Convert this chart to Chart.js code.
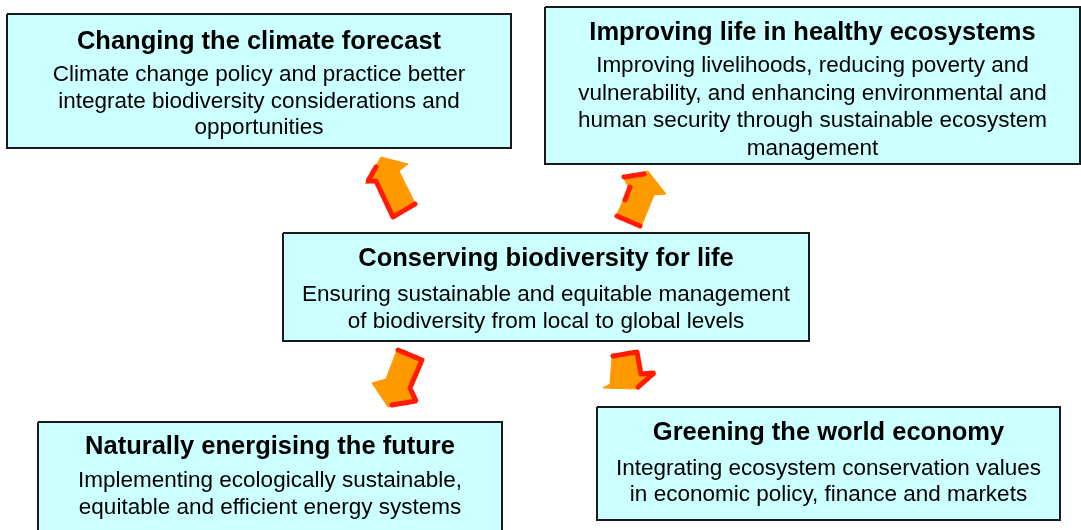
<!DOCTYPE html>
<html>
<head>
<meta charset="utf-8">
<script src="https://cdn.jsdelivr.net/npm/chart.js@4/dist/chart.umd.min.js"></script>
<style>
  html, body { margin: 0; padding: 0; background: #ffffff; }
  #wrap { width: 1081px; height: 530px; position: relative; }
</style>
</head>
<body>
<div id="wrap"><canvas id="c" width="1081" height="530"></canvas></div>
<script>
// ---- data ----
const boxTitles = [
  "Changing the climate forecast",
  "Improving life in healthy ecosystems",
  "Conserving biodiversity for life",
  "Naturally energising the future",
  "Greening the world economy"
];
const boxLines = [
  ["Climate change policy and practice better", "integrate biodiversity considerations and", "opportunities"],
  ["Improving livelihoods, reducing poverty and", "vulnerability, and enhancing environmental and", "human security through sustainable ecosystem", "management"],
  ["Ensuring sustainable and equitable management", "of biodiversity from local to global levels"],
  ["Implementing ecologically sustainable,", "equitable and efficient energy systems"],
  ["Integrating ecosystem conservation values", "in economic policy, finance and markets"]
];
// box extents in diagram units
const boxLeft   = [7, 545, 283, 38, 597];
const boxRight  = [511, 1080, 809, 502, 1060];
const boxTop    = [14, 7, 233, 422, 407];
const boxBottom = [148, 164, 341, 545, 520];

// arrow outlines (diagram units)
const arrowShapes = [
  [[393,218],[416,205],[399,171],[408,164],[381,157],[365,184],[375,181],[393,218]],
  [[616,216],[641,227],[654,195],[666,194],[648,171],[623,177],[629,188],[616,216]],
  [[397,350],[423,360],[411,388],[417,402],[388,407],[372,383],[386,379],[397,350]],
  [[612,357],[638,352],[642,374],[655,373],[637,389],[603,388],[610,384],[612,357]]
];
// rough red edges of arrows
const arrowEdges = [
  [[376,167],[368,181],[376,181],[393,217],[415,204]],
  [[624,177],[644,174]],
  [[630,187],[625,200]],
  [[617,216],[640,226]],
  [[398,350],[422,360],[410,388],[416,401],[392,405]],
  [[613,356],[637,352],[641,374],[654,373],[637,388]]
];

// ---- text layout ----
const textLayout = {
  titleY: [42, 33, 259, 447, 433],
  firstLineY: [75, 66, 295, 481, 469],
  lineGap: [26.5, 27.5, 26.5, 27, 26]
};

// ---- datasets (index 0 is drawn on top) ----
const toPts = arr => arr.map(p => ({x: p[0], y: p[1]}));
const datasets = [];
arrowEdges.forEach(s => datasets.push({
  data: toPts(s), showLine: true, fill: false,
  borderColor: '#ff1a00', borderWidth: 5, borderDash: [4, 1.5],
  borderCapStyle: 'round', borderJoinStyle: 'round',
  pointRadius: 0, tension: 0
}));
arrowShapes.forEach(s => datasets.push({
  data: toPts(s), showLine: true, fill: 'shape',
  backgroundColor: '#ff9900', borderColor: '#ff9900', borderWidth: 1,
  pointRadius: 0, tension: 0
}));
for (let i = 0; i < boxTitles.length; i++) {
  datasets.push({
    data: [
      {x: boxLeft[i], y: boxTop[i]},
      {x: boxRight[i], y: boxTop[i]},
      {x: boxRight[i], y: boxBottom[i]},
      {x: boxLeft[i], y: boxBottom[i]},
      {x: boxLeft[i], y: boxTop[i]}
    ],
    showLine: true,
    fill: 'shape',
    backgroundColor: '#ccffff',
    borderColor: '#1a1a1a',
    borderWidth: 2,
    borderJoinStyle: 'miter',
    pointRadius: 0,
    tension: 0
  });
}

const textPlugin = {
  id: 'boxText',
  afterDatasetsDraw(chart) {
    const ctx = chart.ctx;
    const xs = chart.scales.x, ys = chart.scales.y;
    ctx.save();
    ctx.fillStyle = '#000000';
    ctx.textAlign = 'center';
    ctx.textBaseline = 'middle';
    for (let i = 0; i < boxTitles.length; i++) {
      const cx = xs.getPixelForValue((boxLeft[i] + boxRight[i]) / 2);
      ctx.font = 'bold 25.5px "Liberation Sans", Arial, sans-serif';
      ctx.fillText(boxTitles[i], cx, ys.getPixelForValue(textLayout.titleY[i]));
      ctx.font = '22.5px "Liberation Sans", Arial, sans-serif';
      boxLines[i].forEach((t, k) => {
        ctx.fillText(t, cx, ys.getPixelForValue(textLayout.firstLineY[i] + k * textLayout.lineGap[i]));
      });
    }
    ctx.restore();
  }
};

new Chart(document.getElementById('c'), {
  type: 'scatter',
  data: { datasets },
  options: {
    responsive: false,
    animation: false,
    devicePixelRatio: 1,
    layout: { padding: 0 },
    plugins: { legend: { display: false }, tooltip: { enabled: false } },
    scales: {
      x: { type: 'linear', min: 0, max: 1081, display: false },
      y: { type: 'linear', min: 0, max: 530, reverse: true, display: false }
    }
  },
  plugins: [textPlugin]
});
</script>
</body>
</html>
